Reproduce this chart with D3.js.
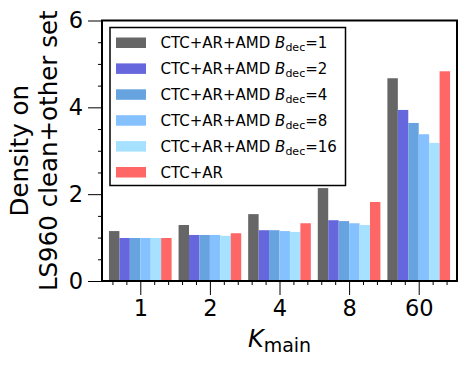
<!DOCTYPE html>
<html>
<head>
<meta charset="utf-8">
<script src="https://cdn.jsdelivr.net/npm/d3@7"></script>
<style>
  body { margin: 0; background: #fff; }
  svg text { font-family: "DejaVu Sans", sans-serif; fill: #000; }
</style>
</head>
<body>
<div id="chart"></div>
<script>
// data
let kMain = ["1", "2", "4", "8", "60"];
let seriesNames = ["1", "2", "4", "8", "16", null]; // null -> plain CTC+AR
let bdec1 = [1.15, 1.29, 1.54, 2.14, 4.67];
let bdec2 = [0.99, 1.06, 1.17, 1.40, 3.94];
let bdec4 = [0.99, 1.06, 1.17, 1.38, 3.64];
let bdec8 = [0.99, 1.06, 1.15, 1.33, 3.38];
let bdec16 = [0.99, 1.04, 1.13, 1.29, 3.18];
let ctcAr = [0.99, 1.10, 1.33, 1.82, 4.83];
let yTicks = [0, 2, 4, 6];

let series = [bdec1, bdec2, bdec4, bdec8, bdec16, ctcAr];
let colors = ["#666666", "#6666DD", "#66A3DF", "#85C1FF", "#A6E1FF", "#FF6666"];

let width = 466, height = 366;
let margin = {left: 102, right: 9, top: 20.5, bottom: 85};
let barW = 0.15;

let svg = d3.select("#chart").append("svg")
    .attr("width", width)
    .attr("height", height);

// x is a plain linear scale so bar offsets work like matplotlib
let x = d3.scaleLinear()
    .domain([-0.55, 4.55])
    .range([margin.left, width - margin.right]);

let y = d3.scaleLinear()
    .domain([0, 6])
    .range([height - margin.bottom, margin.top]);

// bars
series.forEach(function (vals, s) {
    svg.append("g")
        .selectAll("rect")
        .data(vals)
        .enter()
        .append("rect")
        .attr("x", function (d, i) { return x(i + (s - 2.5) * barW - barW / 2); })
        .attr("width", x(barW) - x(0))
        .attr("y", function (d) { return y(d); })
        .attr("height", function (d) { return y(0) - y(d); })
        .attr("fill", colors[s]);
});

// axes
let xMinor = d3.range(-0.4, 4.55, 0.2).filter(function (v) { return Math.abs(v - Math.round(v)) > 0.01; });
let yMinor = d3.range(0, 6.01, 0.5).filter(function (v) { return v % 2 !== 0; });

svg.append("g")
    .attr("transform", "translate(0," + y(0) + ")")
    .call(d3.axisBottom(x).tickValues(d3.range(kMain.length))
        .tickFormat(function (d) { return kMain[d]; })
        .tickSize(14).tickPadding(5));
svg.append("g")
    .attr("transform", "translate(0," + y(0) + ")")
    .call(d3.axisBottom(x).tickValues(xMinor).tickFormat("").tickSize(4));

svg.append("g")
    .attr("transform", "translate(" + margin.left + ",0)")
    .call(d3.axisLeft(y).tickValues(yTicks).tickFormat(d3.format("d"))
        .tickSize(14).tickPadding(5));
svg.append("g")
    .attr("transform", "translate(" + margin.left + ",0)")
    .call(d3.axisLeft(y).tickValues(yMinor).tickFormat("").tickSize(4));

svg.selectAll(".domain").remove();
svg.selectAll(".tick line").attr("stroke", "#000").attr("stroke-width", 1);
svg.selectAll(".tick text").style("font-size", "22.5px").attr("fill", "#000");

// frame
svg.append("rect")
    .attr("x", margin.left)
    .attr("y", margin.top)
    .attr("width", width - margin.right - margin.left)
    .attr("height", y(0) - margin.top)
    .attr("fill", "none")
    .attr("stroke", "#000")
    .attr("stroke-width", 2);

// axis labels
let xl = svg.append("text")
    .attr("x", (margin.left + width - margin.right) / 2)
    .attr("y", 347)
    .attr("text-anchor", "middle")
    .style("font-size", "24px");
xl.append("tspan").style("font-style", "italic").text("K");
xl.append("tspan").attr("dy", 5).style("font-size", "19px").text("main");

let yl = svg.append("text")
    .attr("transform", "translate(0," + (margin.top + y(0)) / 2 + ") rotate(-90)")
    .attr("text-anchor", "middle")
    .style("font-size", "24.5px");
yl.append("tspan").attr("x", 0).attr("y", 28).text("Density on");
yl.append("tspan").attr("x", 0).attr("y", 57).text("LS960 clean+other set");

// legend
let lg = svg.append("g");
lg.append("rect")
    .attr("x", 110).attr("y", 27.5)
    .attr("width", 235.5).attr("height", 158)
    .attr("fill", "#fff")
    .attr("stroke", "#000")
    .attr("stroke-width", 1.5);

seriesNames.forEach(function (name, i) {
    let cy = 42.5 + i * 25.9;
    lg.append("rect")
        .attr("x", 116).attr("y", cy - 5)
        .attr("width", 30).attr("height", 10.5)
        .attr("fill", colors[i]);
    let t = lg.append("text")
        .attr("x", 160.5).attr("y", cy + 5.5)
        .style("font-size", "15px");
    if (name === null) {
        t.text("CTC+AR");
    } else {
        t.append("tspan").text("CTC+AR+AMD ");
        t.append("tspan").style("font-style", "italic").text("B");
        t.append("tspan").attr("dy", 3).style("font-size", "11px").text("dec");
        t.append("tspan").attr("dy", -3).text("=" + name);
    }
});
</script>
</body>
</html>
